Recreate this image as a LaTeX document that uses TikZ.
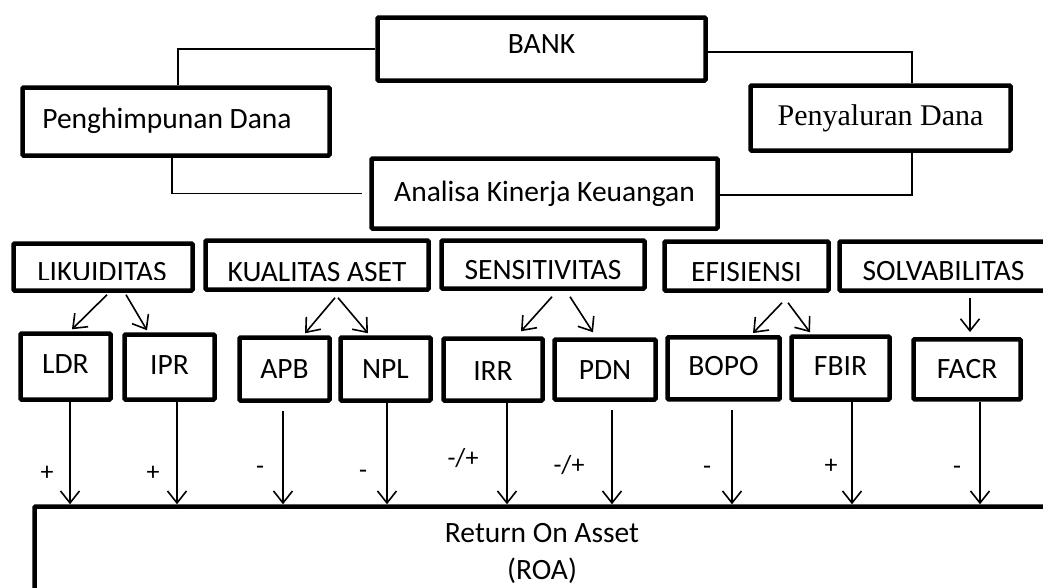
\documentclass[tikz,border=0pt]{standalone}
\usepackage{fontspec}
\setmainfont{Carlito}
\newfontfamily\timesf{Liberation Serif}
\usetikzlibrary{arrows.meta}
\tikzset{
  box/.style={draw, line width=4.5pt, rounded corners=1pt, inner sep=0pt,
    font=\fontsize{29.5}{34}\selectfont, text height=19pt, text depth=0pt},
  conn/.style={line width=1.3pt},
  arr/.style={line width=1.6pt, -{Straight Barb[length=12pt,width=19pt,line width=1.6pt]}},
  sign/.style={font=\fontsize{26}{30}\selectfont, inner sep=0pt, anchor=base},
  plain/.style={inner sep=0pt, font=\fontsize{29.5}{34}\selectfont},
}
\begin{document}
\begin{tikzpicture}[x=1pt, y=-1pt]
\clip (0,0) rectangle (1043,587);
\fill[white] (0,0) rectangle (1043,587);

% top level
\node[box, minimum width=328, minimum height=63, text depth=10pt] (bank) at (541.5,49) {BANK};
\node[box, minimum width=307, minimum height=68, text depth=5pt] (peng) at (176,121.5) {\hspace*{-18pt}Penghimpunan Dana};
\node[box, minimum width=260, minimum height=65, text height=20pt, text depth=6pt,
      font=\timesf\fontsize{30}{34}\selectfont] (peny) at (880.5,118) {Penyaluran Dana};
\node[box, minimum width=346, minimum height=70, text depth=3pt] (anal) at (544.5,193.5) {Analisa Kinerja Keuangan};

\draw[conn] (bank.west) -| ([xshift=2pt]peng.north);
\draw[conn] ([yshift=-3pt]bank.east) -| ([xshift=31.5pt]peny.north);
\draw[conn] ([xshift=-4pt]peng.south) |- ([xshift=-7pt]anal.west);
\draw[conn] ([xshift=31.5pt]peny.south) |- ([yshift=-1.5pt]anal.east);

% categories
\node[box, minimum width=179, minimum height=47] (lik) at (103,267) {};
\begin{scope}
  \clip (20,250) rectangle (190,279);
  \node[plain] (liktext) at (102,272) {LIKUIDITAS};
\end{scope}
\node[box, minimum width=223, minimum height=49, text height=32pt] (kua) at (317,265) {KUALITAS ASET};
\node[box, minimum width=203, minimum height=48, text height=30pt] (sen) at (543,264.5) {SENSITIVITAS};
\node[box, minimum width=164, minimum height=49, text height=30pt] (efi) at (746.5,266) {EFISIENSI};
\node[box, minimum width=208, minimum height=49, text height=29pt] (sol) at (943.5,266) {SOLVABILITAS};

% metrics
\node[box, minimum width=90,  minimum height=66, text depth=5pt] (ldr)  at (65.5,366.5)  {LDR};
\node[box, minimum width=90,  minimum height=65, text depth=5pt] (ipr)  at (169.5,367)   {IPR};
\node[box, minimum width=90,  minimum height=63] (apb)  at (284.5,369)   {APB};
\node[box, minimum width=90,  minimum height=63] (npl)  at (385.5,369)   {NPL};
\node[box, minimum width=99,  minimum height=62, text height=22pt] (irr)  at (493,369.5)   {IRR};
\node[box, minimum width=101, minimum height=60] (pdn)  at (605,369.5)   {PDN};
\node[box, minimum width=112, minimum height=62, text depth=4pt] (bopo) at (723.5,368.3) {BOPO};
\node[box, minimum width=98,  minimum height=63, text depth=5pt] (fbir) at (840.5,368)   {FBIR};
\node[box, minimum width=107, minimum height=60] (facr) at (967,369.3)   {FACR};

% category -> metric arrows
\draw[arr] ([xshift=4pt,yshift=-2pt]lik.south) -- ([xshift=6.5pt,yshift=2pt]ldr.north);
\draw[arr] ([xshift=23pt,yshift=-2pt]lik.south) -- ([xshift=-22.5pt,yshift=2pt]ipr.north);
\draw[arr] ([xshift=18pt,yshift=-6pt]kua.south) -- ([xshift=20.5pt,yshift=2pt]apb.north);
\draw[arr] ([xshift=21pt,yshift=-6pt]kua.south) -- ([xshift=-17.5pt,yshift=2pt]npl.north);
\draw[arr] ([xshift=9pt,yshift=-6pt]sen.south) -- ([xshift=28pt,yshift=5pt]irr.north);
\draw[arr] ([xshift=27pt,yshift=-6pt]sen.south) -- ([xshift=-12pt,yshift=5pt]pdn.north);
\draw[arr] ([xshift=35.5pt,yshift=-10pt]efi.south) -- ([xshift=29.5pt,yshift=2pt]bopo.north);
\draw[arr] ([xshift=41.5pt,yshift=-10pt]efi.south) -- ([xshift=-30.5pt,yshift=2pt]fbir.north);
\draw[arr] ([xshift=26.5pt,yshift=-5pt]sol.south) -- ([xshift=3pt,yshift=5pt]facr.north);

% ROA
\node[box, minimum width=1015, minimum height=93, align=center, text height=, text depth=,
      font=\fontsize{29.5}{37}\selectfont] (roa) at (542,553) {Return On Asset\\(ROA)};

% metric -> ROA arrows
\draw[arr] ([xshift=4.5pt]ldr.south) -- ([xshift=4.5pt]ldr.south |- roa.north);
\draw[arr] ([xshift=7.5pt]ipr.south) -- ([xshift=7.5pt]ipr.south |- roa.north);
\draw[arr] ([xshift=-1.5pt,yshift=-8pt]apb.south) -- ([xshift=-1.5pt]apb.south |- roa.north);
\draw[arr] ([xshift=1.5pt]npl.south) -- ([xshift=1.5pt]npl.south |- roa.north);
\draw[arr] ([xshift=14pt]irr.south) -- ([xshift=14pt]irr.south |- roa.north);
\draw[arr] ([xshift=7pt,yshift=-8pt]pdn.south) -- ([xshift=7pt]pdn.south |- roa.north);
\draw[arr] ([xshift=8.5pt,yshift=-8pt]bopo.south) -- ([xshift=8.5pt]bopo.south |- roa.north);
\draw[arr] ([xshift=11.5pt]fbir.south) -- ([xshift=11.5pt]fbir.south |- roa.north);
\draw[arr] ([xshift=13pt]facr.south) -- ([xshift=13pt]facr.south |- roa.north);

% signs
\node[sign] (s1) at (47,480) {+};
\node[sign] (s2) at (153,480) {+};
\node[sign] (s3) at (260,474) {-};
\node[sign] (s4) at (363,478) {-};
\node[sign] (s5) at (463,466) {-/+};
\node[sign] (s6) at (569,473) {-/+};
\node[sign] (s7) at (707,474) {-};
\node[sign] (s8) at (831,473) {+};
\node[sign] (s9) at (957,474) {-};
\end{tikzpicture}
\end{document}
